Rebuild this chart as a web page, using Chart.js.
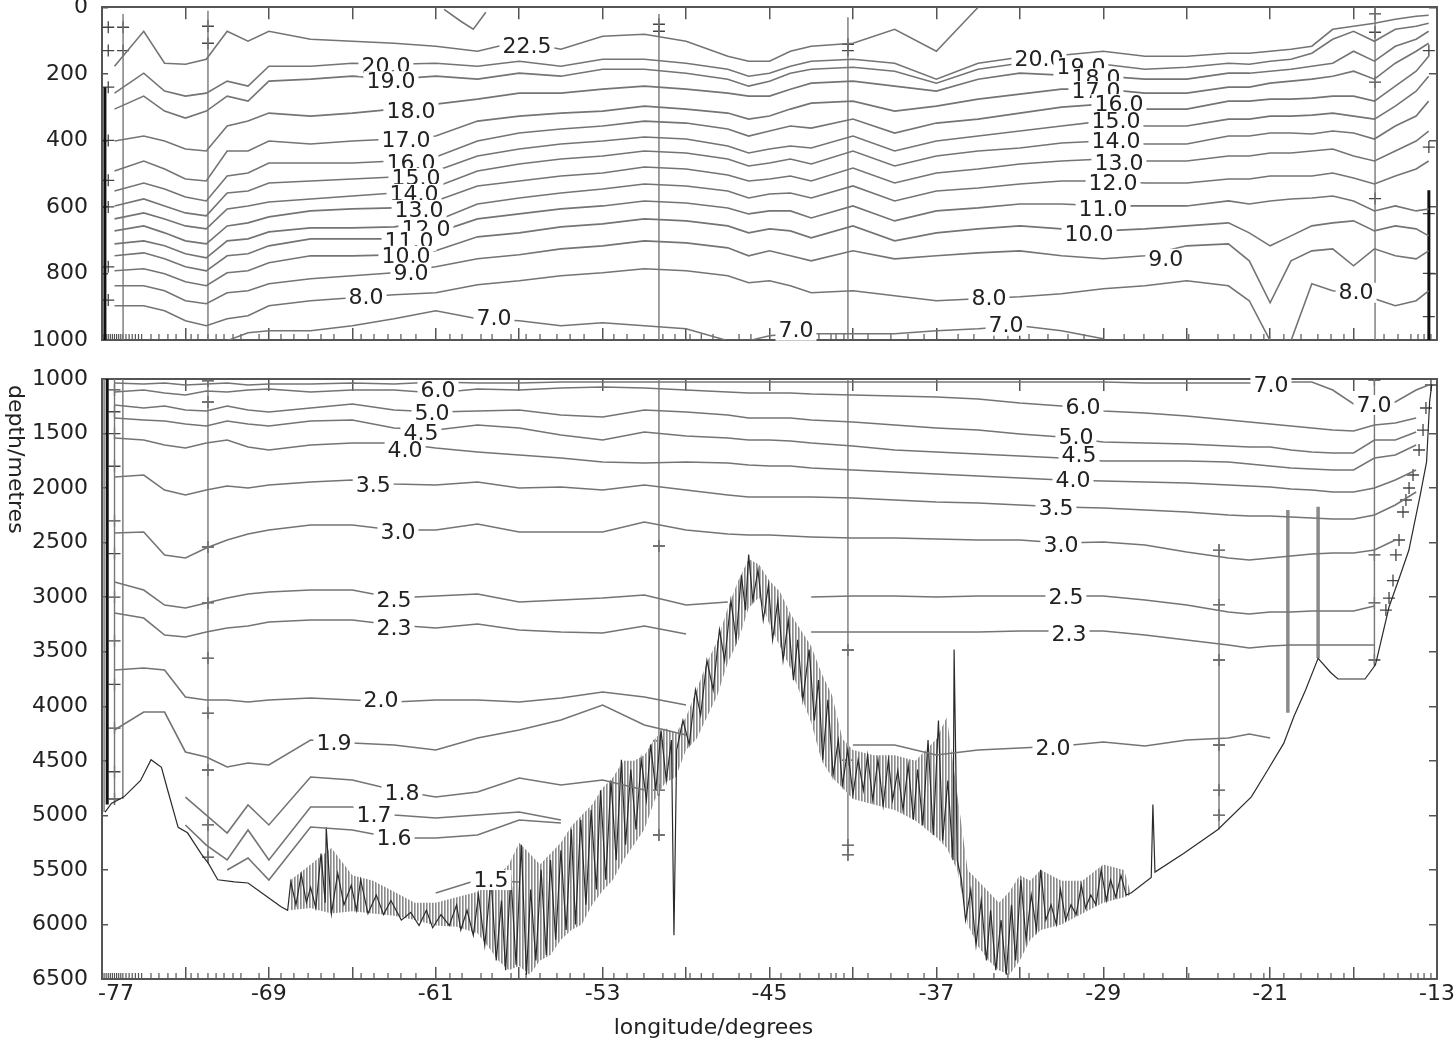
<!DOCTYPE html>
<html>
<head>
<meta charset="utf-8">
<title>temperature section</title>
<script src="https://cdn.jsdelivr.net/npm/chart.js@4.4.1/dist/chart.umd.min.js"></script>
<style>
  body { margin: 0; background: #fff; }
  #wrap { position: relative; width: 1454px; height: 1048px; }
  canvas { position: absolute; left: 0; }
  #topChart { top: 0; }
  #botChart { top: 360px; }
</style>
</head>
<body>
<div id="wrap">
  <canvas id="topChart" width="1454" height="360"></canvas>
  <canvas id="botChart" width="1454" height="688"></canvas>
</div>
<script>
const lonGrid = [-76.4, -75, -74, -73, -72, -71, -70, -69, -67, -65, -63, -61, -59, -57, -55, -53, -51, -49, -47, -46, -45, -44, -43, -41, -39, -37, -35, -33, -31, -29, -27, -25, -23, -22, -21, -20, -19, -18, -17, -16, -15, -14, -13.4];

// upper panel, 0-1000 m (depth in metres of each isotherm)
const t225 = [177, 72, 168, 171, 156, 72, 102, 72, 96, 102, 108, 117, 132, 102, 126, 87, 81, 102, 147, 162, 162, 132, 117, 108, 66, 132, 0, null, null, null, null, null, null, null, null, null, null, null, null, null, null, null, null];
const t200 = [258, 198, 252, 267, 258, 222, 237, 177, 177, 168, 171, 168, 177, 162, 177, 156, 156, 168, 186, 207, 198, 177, 162, 156, 168, 216, 168, 150, 144, 132, 147, 147, 138, 138, 132, 126, 117, 66, 57, 48, 36, 27, 24];
const t190 = [306, 267, 312, 333, 312, 267, 282, 222, 216, 207, 216, 207, 216, 198, 207, 186, 186, 198, 216, 237, 222, 198, 186, 180, 192, 228, 186, 168, 168, 171, 186, 180, 168, 171, 162, 156, 138, 96, 72, 102, 66, 57, 48];
const t180 = [402, 387, 402, 426, 432, 357, 342, 318, 327, 318, 306, 291, 276, 258, 258, 246, 237, 246, 258, 267, 267, 246, 228, 222, 237, 252, 216, 198, 204, 207, 216, 216, 198, 198, 192, 186, 177, 168, 132, 162, 117, 96, 72];
const t170 = [492, 462, 486, 516, 522, 432, 432, 402, 411, 402, 396, 387, 342, 327, 318, 312, 297, 306, 318, 336, 327, 306, 288, 282, 312, 297, 276, 261, 246, 246, 258, 258, 240, 240, 228, 222, 216, 207, 192, 216, 168, 132, 108];
const t160 = [552, 528, 546, 570, 582, 507, 498, 468, 468, 468, 462, 450, 402, 378, 366, 357, 342, 348, 366, 387, 372, 357, 363, 336, 378, 348, 336, 318, 300, 291, 306, 306, 282, 282, 276, 276, 273, 267, 267, 282, 237, 192, 147];
const t150 = [597, 576, 597, 618, 627, 558, 552, 528, 522, 516, 510, 492, 447, 426, 411, 402, 390, 396, 417, 438, 426, 417, 423, 387, 432, 402, 387, 372, 357, 342, 357, 357, 336, 336, 327, 327, 324, 318, 327, 336, 297, 252, 207];
const t140 = [636, 618, 636, 657, 666, 606, 597, 585, 576, 567, 558, 540, 492, 471, 456, 447, 432, 438, 456, 477, 468, 456, 471, 432, 477, 447, 432, 423, 408, 402, 411, 411, 387, 387, 378, 378, 381, 372, 378, 396, 357, 327, 282];
const t130 = [672, 657, 678, 702, 711, 657, 648, 630, 612, 606, 603, 582, 537, 522, 507, 498, 480, 486, 504, 522, 516, 507, 522, 483, 528, 498, 486, 471, 462, 456, 462, 462, 447, 447, 438, 438, 432, 426, 447, 462, 432, 402, 372];
const t120 = [711, 702, 717, 741, 753, 702, 696, 675, 663, 663, 660, 642, 591, 573, 558, 546, 531, 537, 552, 573, 561, 558, 573, 537, 582, 552, 543, 531, 522, 522, 528, 528, 516, 516, 507, 507, 507, 498, 513, 531, 507, 486, 462];
const t110 = [747, 738, 756, 780, 792, 747, 741, 717, 696, 696, 696, 678, 636, 621, 606, 597, 582, 588, 603, 621, 612, 612, 633, 597, 642, 612, 603, 591, 591, 597, 597, 597, 582, 591, 582, 576, 573, 567, 582, 612, 597, 612, 606];
const t100 = [792, 786, 801, 825, 837, 798, 792, 768, 747, 747, 744, 732, 690, 678, 660, 651, 636, 642, 657, 678, 666, 672, 693, 657, 702, 678, 666, 657, 666, 672, 666, 657, 648, 678, 717, 687, 657, 648, 642, 672, 657, 666, 687];
const t90 = [837, 837, 852, 882, 891, 858, 852, 831, 816, 807, 798, 780, 756, 744, 726, 717, 702, 708, 723, 747, 732, 747, 762, 732, 756, 747, 738, 732, 747, 756, 747, 717, 711, 762, 888, 762, 732, 726, 777, 726, 747, 756, 732];
const t80 = [897, 897, 912, 942, 957, 936, 927, 897, 882, 873, 864, 858, 834, 822, 807, 798, 786, 792, 807, 828, 822, 837, 858, 852, 867, 882, 876, 870, 861, 846, 837, 822, 837, 882, 1002, 1002, 831, 852, 858, 876, 897, 882, 852];
const t70 = [null, null, null, null, null, 1002, 978, 972, 972, 957, 936, 912, 936, 942, 957, 948, 957, 966, 1002, 1002, 987, 981, 981, 981, 981, 972, 966, 957, 972, 996, null, null, null, null, null, null, null, null, null, null, null, null, null];
const topLines = [t225, t200, t190, t180, t170, t160, t150, t140, t130, t120, t110, t100, t90, t80, t70];

// short piece near the surface
const fragLon = [-60.6, -59.8, -59.2, -58.6];
const fragDepth = [6, 42, 66, 15];

// lower panel, 1000-6500 m
const b70 = [1037, 1046, 1037, 1055, 1046, 1037, 1055, 1046, 1046, 1037, 1046, 1028, 1037, 1037, 1028, 1028, 1028, 1028, 1028, 1028, 1028, 1028, 1028, 1028, 1028, 1028, 1028, 1028, 1028, 1028, 1037, 1037, 1037, 1037, 1046, 1028, 1028, 1101, 1229, 1238, 1211, 1101, 1055];
const b60 = [1119, 1101, 1128, 1147, 1110, 1119, 1101, 1092, 1119, 1101, 1101, 1128, 1092, 1101, 1083, 1073, 1083, 1101, 1119, 1128, 1128, 1128, 1138, 1147, 1156, 1165, 1183, 1220, 1248, 1293, 1312, 1339, 1376, 1394, 1413, 1431, 1449, 1468, 1477, 1422, 1403, 1358, null];
const b50 = [1238, 1266, 1248, 1284, 1293, 1248, 1284, 1303, 1266, 1229, 1284, 1303, 1293, 1284, 1330, 1348, 1284, 1303, 1330, 1358, 1358, 1358, 1376, 1394, 1422, 1449, 1468, 1504, 1532, 1578, 1587, 1596, 1614, 1623, 1623, 1651, 1669, 1678, 1678, 1559, 1559, 1486, null];
const b45 = [1358, 1376, 1385, 1413, 1431, 1385, 1413, 1431, 1385, 1376, 1449, 1468, 1422, 1449, 1513, 1559, 1486, 1523, 1541, 1559, 1559, 1568, 1587, 1614, 1651, 1669, 1688, 1706, 1724, 1752, 1752, 1752, 1761, 1779, 1798, 1816, 1825, 1834, 1834, 1724, 1697, 1605, null];
const b40 = [1541, 1559, 1605, 1633, 1587, 1559, 1623, 1651, 1605, 1587, 1587, 1633, 1669, 1697, 1724, 1761, 1770, 1761, 1770, 1788, 1798, 1798, 1816, 1834, 1853, 1871, 1889, 1908, 1926, 1935, 1944, 1953, 1972, 1981, 1990, 2008, 2018, 2036, 2036, 1999, 1926, 1834, null];
const b35 = [1898, 1880, 2018, 2063, 2018, 1981, 1999, 1972, 1944, 1926, 1963, 1972, 1944, 1999, 1990, 2018, 1972, 2018, 2063, 2082, 2082, 2082, 2082, 2091, 2109, 2128, 2137, 2155, 2173, 2183, 2201, 2219, 2247, 2256, 2256, 2265, 2274, 2283, 2283, 2247, 2155, 2036, null];
const b30 = [2412, 2403, 2613, 2641, 2549, 2476, 2421, 2384, 2338, 2338, 2384, 2384, 2329, 2403, 2403, 2403, 2311, 2384, 2421, 2430, 2430, 2439, 2448, 2458, 2458, 2467, 2476, 2476, 2504, 2494, 2522, 2586, 2641, 2659, 2641, 2623, 2604, 2595, 2595, 2568, 2476, null, null];
const b25 = [2861, 2934, 3072, 3099, 3053, 3008, 2971, 2953, 2934, 2934, 3008, 2989, 2971, 3044, 3026, 3008, 2980, 3072, 3044, null, null, null, 2998, 2989, 2989, 2998, 2989, 2989, 2989, 2989, 3026, 3072, 3136, 3154, 3136, 3136, 3127, 3127, 3127, 3081, null, null, null];
const b23 = [3145, 3191, 3347, 3365, 3319, 3283, 3264, 3228, 3209, 3209, 3255, 3283, 3246, 3301, 3319, 3328, 3264, 3338, null, null, null, null, 3319, 3319, 3319, 3319, 3319, 3310, 3310, 3310, 3347, 3393, 3438, 3466, 3448, 3438, 3438, 3438, 3438, 3438, null, null, null];
const b20 = [3668, 3649, 3668, 3915, 3943, 3943, 3961, 3943, 3924, 3943, 3961, 3943, 3943, 3961, 3924, 3869, 3915, 3989, null, null, null, null, null, 4355, 4355, 4447, 4401, 4383, 4364, 4327, 4364, 4309, 4291, 4254, 4291, null, null, null, null, null, null, null, null];
const b19 = [4218, 4053, 4053, 4419, 4465, 4557, 4520, 4538, 4309, 4337, 4355, 4401, 4291, 4218, 4126, 3989, 4172, 4263, null, null, null, null, null, null, null, null, null, null, null, null, null, null, null, null, null, null, null, null, null, null, null, null, null];
const b18 = [null, null, null, 4832, 4997, 5162, 4905, 5088, 4648, 4676, 4768, 4832, 4786, 4658, 4722, 4676, 4768, null, null, null, null, null, null, null, null, null, null, null, null, null, null, null, null, null, null, null, null, null, null, null, null, null, null];
const b17 = [null, null, null, 5088, 5272, 5409, 5134, 5409, 4923, 4923, 4997, 5024, 4997, 4969, 5042, null, null, null, null, null, null, null, null, null, null, null, null, null, null, null, null, null, null, null, null, null, null, null, null, null, null, null, null];
const b16 = [null, null, null, null, null, 5501, 5391, 5593, 5107, 5134, 5208, 5208, 5180, 5042, 5070, null, null, null, null, null, null, null, null, null, null, null, null, null, null, null, null, null, null, null, null, null, null, null, null, null, null, null, null];
const b15 = [null, null, null, null, null, null, null, null, null, null, null, 5712, 5593, 5611, null, null, null, null, null, null, null, null, null, null, null, null, null, null, null, null, null, null, null, null, null, null, null, null, null, null, null, null, null];
const botLines = [b70, b60, b50, b45, b40, b35, b30, b25, b23, b20, b19, b18, b17, b16, b15];

// sea floor
const bathyLon = [-76.85, -76.55, -75.95, -75.15, -74.65, -74.15, -73.85, -73.35, -72.9, -72.25, -71.9, -71.45, -70.65, -70.0, -69.05, -68.4, -68.1, -67.95, -67.7, -67.45, -67.2, -67.0, -66.75, -66.5, -66.3, -66.25, -66.0, -65.7, -65.4, -65.05, -64.8, -64.6, -64.25, -63.85, -63.5, -63.15, -62.65, -62.2, -61.8, -61.45, -61.15, -60.75, -60.35, -60.0, -59.8, -59.5, -59.2, -58.95, -58.65, -58.35, -58.1, -57.85, -57.65, -57.4, -57.15, -56.9, -56.65, -56.45, -56.2, -55.95, -55.7, -55.5, -55.25, -55.0, -54.75, -54.5, -54.3, -54.05, -53.8, -53.55, -53.3, -53.1, -52.85, -52.6, -52.35, -52.1, -51.9, -51.65, -51.4, -51.15, -50.9, -50.7, -50.45, -50.2, -49.95, -49.7, -49.58, -49.45, -49.15, -48.85, -48.55, -48.3, -48.0, -47.7, -47.4, -47.15, -46.85, -46.6, -46.35, -46.15, -46.0, -45.8, -45.55, -45.3, -45.05, -44.85, -44.6, -44.35, -44.1, -43.85, -43.65, -43.4, -43.1, -42.85, -42.65, -42.45, -42.2, -41.95, -41.7, -41.5, -41.25, -41.0, -40.75, -40.5, -40.3, -40.05, -39.8, -39.55, -39.3, -39.1, -38.85, -38.6, -38.35, -38.1, -37.9, -37.65, -37.4, -37.15, -36.9, -36.7, -36.45, -36.2, -36.15, -36.0, -35.8, -35.6, -35.35, -35.1, -34.85, -34.6, -34.4, -34.15, -33.9, -33.65, -33.4, -33.2, -32.95, -32.7, -32.45, -32.2, -32.0, -31.75, -31.5, -31.25, -31.05, -30.8, -30.55, -30.3, -30.05, -29.85, -29.6, -29.35, -29.1, -28.85, -28.65, -28.4, -28.15, -27.9, -27.65, -26.7, -26.62, -26.52, -25.15, -23.5, -21.9, -21.1, -20.35, -19.85, -19.3, -18.7, -18.1, -17.75, -16.45, -15.95, -15.3, -14.8, -14.35, -13.8, -13.5, -13.35, -13.25];
const bathyDepth = [4970, 4890, 4830, 4680, 4490, 4560, 4770, 5110, 5160, 5350, 5440, 5590, 5610, 5620, 5750, 5840, 5870, 5610, 5820, 5540, 5800, 5660, 5850, 5350, 5800, 5110, 5900, 5530, 5820, 5640, 5870, 5590, 5900, 5730, 5910, 5780, 5960, 5890, 6010, 5870, 6030, 5910, 6010, 5820, 6050, 5870, 6100, 5730, 6190, 5590, 6330, 5780, 6420, 5550, 6370, 5270, 6460, 5680, 6330, 5500, 6280, 5410, 6140, 5320, 6050, 5130, 6000, 5040, 5820, 4950, 5680, 4770, 5590, 4680, 5410, 4490, 5270, 4580, 5130, 4490, 4860, 4350, 4770, 4220, 4680, 4310, 6100, 4400, 4130, 4350, 3850, 4080, 3580, 3850, 3300, 3580, 3030, 3390, 2800, 3120, 2610, 3030, 2750, 3210, 2890, 3390, 3030, 3580, 3210, 3760, 3390, 3940, 3480, 4130, 3760, 4490, 3940, 4630, 4310, 4720, 4400, 4810, 4490, 4770, 4450, 4860, 4490, 4910, 4490, 4860, 4590, 4950, 4540, 5040, 4580, 5090, 4310, 5180, 4130, 5230, 4680, 5410, 3480, 5410, 5590, 5960, 5680, 6190, 5780, 6330, 5870, 6420, 5960, 6460, 5820, 6330, 5590, 6140, 5730, 6050, 5500, 5960, 5820, 6000, 5680, 5960, 5820, 5910, 5640, 5850, 5730, 5820, 5500, 5780, 5590, 5750, 5550, 5730, 5710, 5570, 4900, 5520, 5350, 5130, 4830, 4580, 4340, 4090, 3850, 3560, 3690, 3750, 3750, 3620, 3090, 2820, 2570, 2060, 1760, 1200, 1050];

// envelope of the rough, spiky stretch of the sea floor (shallow tips / deep troughs)
const roughLon = [-68, -67, -66, -65, -64, -63, -62, -61, -60, -59, -58.5, -58, -57.5, -57, -56.5, -56, -55.5, -55, -54.5, -54, -53.5, -53, -52.5, -52, -51.5, -51, -50.5, -50, -49.5, -49, -48.5, -48, -47.5, -47, -46.5, -46, -45.5, -45, -44.5, -44, -43.5, -43, -42.5, -42, -41.5, -41, -40, -39, -38, -37, -36.5, -36, -35.5, -35, -34.5, -34, -33.5, -33, -32.5, -32, -31, -30, -29, -28, -27.7];
const roughTop = [5600, 5450, 5300, 5550, 5600, 5700, 5800, 5800, 5750, 5700, 5500, 5550, 5450, 5250, 5350, 5450, 5350, 5250, 5100, 5000, 4900, 4750, 4650, 4500, 4500, 4450, 4300, 4200, 4250, 4100, 3850, 3600, 3400, 3100, 2850, 2650, 2700, 2850, 2950, 3150, 3300, 3450, 3700, 3900, 4300, 4400, 4450, 4450, 4500, 4300, 4100, 4800, 5500, 5600, 5700, 5800, 5700, 5550, 5600, 5500, 5600, 5600, 5450, 5500, 5700];
const roughBot = [5870, 5850, 5900, 5880, 5900, 5920, 5960, 6010, 6020, 6080, 6200, 6330, 6420, 6380, 6460, 6330, 6280, 6140, 6050, 6000, 5820, 5690, 5590, 5410, 5270, 5130, 4860, 4700, 4650, 4400, 4300, 4100, 3900, 3600, 3400, 3100, 3000, 3250, 3450, 3650, 3900, 4150, 4500, 4650, 4750, 4850, 4900, 4950, 5050, 5200, 5300, 5500, 6000, 6200, 6330, 6420, 6460, 6330, 6140, 6050, 6000, 5900, 5800, 5750, 5730];

// CTD station profiles (vertical lines) and their sample crosses
const topStnLon = [-75.99, -71.92, -50.3, -41.24, -15.97];
const topStnFrom = [20, 10, 20, 30, 0];
const topStnTo = [1000, 1000, 1000, 1000, 1000];
const topHeavyLon = [-76.86, -13.39];
const topHeavyFrom = [240, 550];
const topHeavyTo = [1000, 1000];
const topCrossLon = [-71.92, -71.92, -75.99, -75.99, -50.3, -50.3, -41.24, -41.24, -15.97, -15.97, -15.97, -15.97, -13.39, -13.39, -13.39, -13.39, -13.39, -76.7, -76.7, -76.7, -76.7, -76.7, -76.7, -76.7, -76.7];
const topCrossDepth = [57, 108, 60, 130, 51, 72, 111, 130, 20, 75, 225, 575, 130, 420, 620, 800, 930, 60, 130, 240, 400, 520, 600, 780, 880];

const botStnLon = [-76.9, -76.4, -76.0, -71.92, -50.3, -41.24, -23.45, -16.0];
const botStnFrom = [1000, 1000, 1000, 1000, 1000, 1000, 2520, 1000];
const botStnTo = [4970, 4900, 4850, 5440, 5230, 5410, 5130, 3620];
const botHeavyLon = [-76.75, -20.15, -18.7];
const botHeavyFrom = [1000, 2200, 2170];
const botHeavyTo = [4900, 4060, 3560];
const botCrossLon = [-71.92, -71.92, -71.92, -71.92, -71.92, -71.92, -71.92, -71.92, -71.92, -50.3, -50.3, -50.3, -50.3, -41.24, -41.24, -41.24, -41.24, -23.45, -23.45, -23.45, -23.45, -23.45, -23.45, -16.0, -16.0, -16.0, -16.0, -13.29, -13.53, -13.67, -13.86, -14.15, -14.34, -14.49, -14.63, -14.82, -14.97, -15.11, -15.3, -15.45, -76.4, -76.4, -76.4, -76.4, -76.4, -76.4, -76.4, -76.4, -76.4, -76.4, -76.4, -76.4];
const botCrossDepth = [1018, 1211, 2540, 3053, 3558, 4062, 4584, 5088, 5382, 2531, 4318, 4768, 5180, 3484, 4493, 5272, 5363, 2568, 3071, 3576, 4355, 4768, 4997, 1009, 2613, 3053, 3576, 1055, 1266, 1468, 1651, 1880, 1999, 2109, 2219, 2476, 2613, 2848, 3008, 3118, 1100, 1300, 1500, 1800, 2300, 2600, 3000, 3400, 3800, 4200, 4600, 4850];

// station positions marked along the lower edges
const stationLon = [-76.9, -76.8, -76.7, -76.6, -76.5, -76.4, -76.3, -76.2, -76.1, -76.0, -75.85, -75.7, -75.55, -75.4, -75.25, -75.1, -74.65, -74.27, -73.84, -73.45, -72.73, -72.4, -71.92, -71.53, -71.15, -70.72, -70.34, -69.47, -68.42, -67.8, -67.12, -66.5, -65.88, -64.58, -63.96, -63.29, -62.67, -61.95, -60.32, -59.74, -58.83, -58.3, -57.39, -56.67, -56.0, -55.19, -54.56, -53.89, -52.46, -51.83, -51.02, -50.11, -49.53, -48.81, -48.27, -47.71, -46.46, -45.89, -44.45, -43.54, -42.63, -42.05, -41.81, -41.43, -40.28, -39.18, -38.36, -37.59, -35.96, -35.2, -34.24, -33.57, -32.56, -31.65, -30.69, -29.92, -28.0, -27.05, -26.14, -24.9, -23.5, -22.73, -21.92, -21.3, -20.34, -19.52, -18.71, -18.08, -17.46, -15.54, -14.87, -14.25, -13.91, -13.62, -13.29];

// isotherm labels
const topLabelText = ['22.5', '20.0', '19.0', '18.0', '17.0', '16.0', '15.0', '14.0', '13.0', '12.0', '11.0', '10.0', '9.0', '8.0', '7.0', '7.0', '20.0', '19.0', '18.0', '17.0', '16.0', '15.0', '14.0', '13.0', '12.0', '11.0', '10.0', '9.0', '8.0', '7.0', '8.0'];
const topLabelLon = [-56.63, -63.39, -63.15, -62.19, -62.43, -62.19, -61.95, -62.04, -61.8, -61.47, -62.28, -62.43, -62.19, -64.34, -58.21, -43.73, -32.08, -30.07, -29.35, -29.35, -28.25, -28.39, -28.39, -28.25, -28.53, -29.01, -29.68, -26.0, -34.48, -33.66, -16.88];
const topLabelDepth = [117, 177, 222, 312, 399, 468, 513, 561, 609, 666, 702, 747, 798, 873, 936, 972, 156, 180, 213, 252, 291, 342, 402, 468, 528, 606, 681, 756, 876, 957, 858];

const botLabelText = ['6.0', '5.0', '4.5', '4.0', '3.5', '3.0', '2.5', '2.3', '2.0', '1.9', '1.8', '1.7', '1.6', '1.5', '7.0', '7.0', '6.0', '5.0', '4.5', '4.0', '3.5', '3.0', '2.5', '2.3', '2.0'];
const botLabelLon = [-60.89, -61.18, -61.71, -62.47, -64.0, -62.81, -63.0, -63.0, -63.62, -65.88, -62.62, -63.96, -63.0, -58.35, -20.96, -16.02, -29.97, -30.31, -30.16, -30.45, -31.27, -31.03, -30.79, -30.64, -31.41];
const botLabelDepth = [1101, 1312, 1495, 1651, 1972, 2403, 3026, 3283, 3943, 4337, 4795, 4997, 5208, 5593, 1055, 1238, 1257, 1532, 1697, 1926, 2183, 2522, 2998, 3338, 4383];

const FONT = 'DejaVu Sans';
const LINE = '#747474';
const FRAME = '#555';

function contourSets(lines) {
  return lines.map(arr => ({
    data: lonGrid.map((lon, i) => ({ x: lon, y: arr[i] })),
    showLine: true, pointRadius: 0, borderColor: LINE, borderWidth: 1.6
  }));
}

function stationSets(lons, from, to, color, width) {
  return lons.map((lon, i) => ({
    data: [{ x: lon, y: from[i] }, { x: lon, y: to[i] }],
    showLine: true, pointRadius: 0, borderColor: color, borderWidth: width
  }));
}

function crossSet(lons, depths) {
  return {
    data: lons.map((lon, i) => ({ x: lon, y: depths[i] })),
    showLine: false, pointStyle: 'cross', pointRadius: 6, borderColor: '#444', borderWidth: 1.3
  };
}

function tickSet(edgeDepth) {
  return {
    data: stationLon.map(lon => ({ x: lon, y: edgeDepth })),
    showLine: false, pointStyle: 'line', rotation: 90, pointRadius: 6, borderColor: '#555', borderWidth: 1.2
  };
}

// fine vertical hatching used for the dense spikes of the rough floor
function hatch() {
  const c = document.createElement('canvas');
  c.width = 3; c.height = 3;
  const g = c.getContext('2d');
  g.fillStyle = '#8a8a8a';
  g.fillRect(0, 0, 1, 3);
  g.fillStyle = '#b5b5b5';
  g.fillRect(1, 0, 1, 3);
  return g.createPattern(c, 'repeat');
}

// draws the isotherm values on a white patch, over the lines
const contourLabels = {
  id: 'contourLabels',
  afterDatasetsDraw(chart, args, opts) {
    const ctx = chart.ctx;
    const xs = chart.scales.x, ys = chart.scales.y;
    ctx.save();
    ctx.font = '22px "' + FONT + '"';
    ctx.textAlign = 'center';
    ctx.textBaseline = 'middle';
    opts.text.forEach((t, i) => {
      const px = xs.getPixelForValue(opts.lon[i]);
      const py = ys.getPixelForValue(opts.depth[i]);
      const w = ctx.measureText(t).width;
      ctx.fillStyle = '#fff';
      ctx.fillRect(px - w / 2 - 3, py - 10, w + 6, 20);
      ctx.fillStyle = '#222';
      ctx.fillText(t, px, py + 1);
    });
    ctx.restore();
  }
};

// axis titles: the depth one reads downwards near the top of the lower panel,
// the longitude one sits a little left of the panel centre
const axisTitles = {
  id: 'axisTitles',
  afterDraw(chart, args, opts) {
    if (!opts.show) return;
    const ctx = chart.ctx;
    const area = chart.chartArea;
    ctx.save();
    ctx.font = '22px "' + FONT + '"';
    ctx.fillStyle = '#222';
    ctx.textBaseline = 'middle';
    ctx.textAlign = 'center';
    ctx.fillText('longitude/degrees', (area.left + area.right) / 2 - 56, area.bottom + 49);
    ctx.translate(15, area.top + 6);
    ctx.rotate(Math.PI / 2);
    ctx.textAlign = 'left';
    ctx.fillText('depth/metres', 0, 0);
    ctx.restore();
  }
};

function makeScales(yMin, yMax, yStep, withLabels) {
  const tickFont = { family: FONT, size: 22 };
  return {
    x: {
      type: 'linear', position: 'bottom', min: -77, max: -13,
      ticks: {
        display: withLabels, stepSize: 4, autoSkip: false, maxRotation: 0, minRotation: 0,
        font: tickFont, color: '#222', padding: 14,
        callback: v => ((v + 77) % 8 === 0 ? (v === -77 ? '\u2007\u2007-77' : String(v)) : '')
      },
      grid: { drawOnChartArea: false, tickLength: -12, color: FRAME, lineWidth: 1.5 },
      border: { display: true, color: FRAME, width: 2 },
      afterFit: s => { s.height = withLabels ? 62 : 20; s.paddingLeft = 0; s.paddingRight = 0; }
    },
    xT: {
      type: 'linear', position: 'top', min: -77, max: -13,
      ticks: { display: false, stepSize: 4, autoSkip: false },
      grid: { drawOnChartArea: false, tickLength: -12, color: FRAME, lineWidth: 1.5 },
      border: { display: true, color: FRAME, width: 2 },
      afterFit: s => { s.height = 0; s.paddingLeft = 0; s.paddingRight = 0; }
    },
    y: {
      type: 'linear', position: 'left', reverse: true, min: yMin, max: yMax,
      ticks: { stepSize: yStep, autoSkip: false, font: tickFont, color: '#222', padding: 20, callback: v => String(v) },
      grid: { drawOnChartArea: false, tickLength: -6, color: FRAME, lineWidth: 1.5 },
      border: { display: true, color: FRAME, width: 2 },
      afterFit: s => { s.width = 100; s.paddingTop = 0; s.paddingBottom = 0; }
    },
    yR: {
      type: 'linear', position: 'right', reverse: true, min: yMin, max: yMax,
      ticks: { display: false, stepSize: yStep, autoSkip: false },
      grid: { drawOnChartArea: false, tickLength: -8, color: FRAME, lineWidth: 1.5 },
      border: { display: true, color: FRAME, width: 2 },
      afterFit: s => { s.width = 0; s.paddingTop = 0; s.paddingBottom = 0; }
    }
  };
}

const topDatasets = [].concat(
  contourSets(topLines),
  [{ data: fragLon.map((lon, i) => ({ x: lon, y: fragDepth[i] })), showLine: true, pointRadius: 0, borderColor: LINE, borderWidth: 1.6 }],
  stationSets(topStnLon, topStnFrom, topStnTo, '#777', 1.4),
  stationSets(topHeavyLon, topHeavyFrom, topHeavyTo, '#111', 3),
  [crossSet(topCrossLon, topCrossDepth), tickSet(1000)]
);

new Chart(document.getElementById('topChart'), {
  type: 'scatter',
  data: { datasets: topDatasets },
  options: {
    responsive: false, animation: false,
    layout: { padding: { left: 2, right: 17, top: 6, bottom: 0 } },
    scales: makeScales(0, 1000, 200, false),
    plugins: {
      legend: { display: false }, tooltip: { enabled: false },
      contourLabels: { text: topLabelText, lon: topLabelLon, depth: topLabelDepth },
      axisTitles: { show: false }
    }
  },
  plugins: [contourLabels, axisTitles]
});

const botDatasets = [].concat(
  contourSets(botLines),
  [{ data: bathyLon.map((lon, i) => ({ x: lon, y: bathyDepth[i] })), showLine: true, pointRadius: 0, borderColor: '#2a2a2a', borderWidth: 1.2 }],
  [{ data: roughLon.map((lon, i) => ({ x: lon, y: roughTop[i] })), showLine: true, pointRadius: 0, borderWidth: 0, borderColor: 'rgba(0,0,0,0)', fill: '+1', backgroundColor: hatch() },
   { data: roughLon.map((lon, i) => ({ x: lon, y: roughBot[i] })), showLine: true, pointRadius: 0, borderWidth: 0, borderColor: 'rgba(0,0,0,0)', fill: false }],
  stationSets(botStnLon, botStnFrom, botStnTo, '#777', 1.4),
  stationSets(botHeavyLon.slice(0, 1), botHeavyFrom.slice(0, 1), botHeavyTo.slice(0, 1), '#111', 3),
  stationSets(botHeavyLon.slice(1), botHeavyFrom.slice(1), botHeavyTo.slice(1), '#8a8a8a', 3.5),
  [crossSet(botCrossLon, botCrossDepth), tickSet(6500)]
);

new Chart(document.getElementById('botChart'), {
  type: 'scatter',
  data: { datasets: botDatasets },
  options: {
    responsive: false, animation: false,
    layout: { padding: { left: 2, right: 17, top: 19, bottom: 7 } },
    scales: makeScales(1000, 6500, 500, true),
    plugins: {
      legend: { display: false }, tooltip: { enabled: false },
      contourLabels: { text: botLabelText, lon: botLabelLon, depth: botLabelDepth },
      axisTitles: { show: true }
    }
  },
  plugins: [contourLabels, axisTitles]
});
</script>
</body>
</html>
